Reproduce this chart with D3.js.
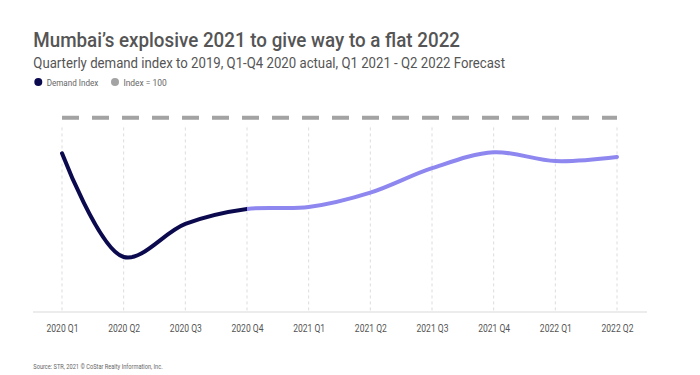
<!DOCTYPE html>
<html>
<head>
<meta charset="utf-8">
<script src="https://cdn.jsdelivr.net/npm/d3@7"></script>
<style>
  html, body { margin: 0; padding: 0; background: #ffffff; }
  svg { display: block; }
  text { font-family: Roboto, "Noto Sans", sans-serif; }
</style>
</head>
<body>
<svg id="chart" width="700" height="375"></svg>
<script>
// ---- data ----
const quarters = ["2020 Q1", "2020 Q2", "2020 Q3", "2020 Q4", "2021 Q1", "2021 Q2", "2021 Q3", "2021 Q4", "2022 Q1", "2022 Q2"];
const demandIndex = [81.7, 28.3, 45.3, 53.0, 54.0, 61.4, 74.0, 82.2, 77.7, 79.8];
const baselineIndex = 100;
const actualQuarters = 4; // first four quarters are actuals, the rest forecast
const legendItems = ["Demand Index", "Index = 100"];

const titleText = "Mumbai\u2019s explosive 2021 to give way to a flat 2022";
const subtitleText = "Quarterly demand index to 2019, Q1-Q4 2020 actual, Q1 2021 - Q2 2022 Forecast";
const sourceText = "Source: STR, 2021 \u00A9 CoStar Realty Information, Inc.";

// ---- layout ----
const svg = d3.select("#chart");
const colActual = "#0c0a4e", colForecast = "#8d87ef", colBase = "#a3a3a3";

const x = d3.scalePoint().domain(quarters).range([62, 617]);
const y = d3.scaleLinear().domain([0, 100]).range([312, 117.7]);

function condText(sel, w) {
  return sel.attr("textLength", w).attr("lengthAdjust", "spacingAndGlyphs");
}

// title
condText(svg.append("text").attr("x", 33.3).attr("y", 46.7)
  .attr("font-size", 21).attr("font-weight", 500).attr("fill", "#555")
  .text(titleText), 426.7);
condText(svg.append("text").attr("x", 33.3).attr("y", 68.3)
  .attr("font-size", 15.5).attr("fill", "#555")
  .text(subtitleText), 471.7);

// legend
const legendColors = [colActual, colBase];
const legendX = [38.3, 115];
const legendW = [51.6, 43.4];
legendItems.forEach((t, i) => {
  svg.append("circle").attr("cx", legendX[i]).attr("cy", 82).attr("r", 4).attr("fill", legendColors[i]);
  condText(svg.append("text").attr("x", legendX[i] + 8.4).attr("y", 85.7)
    .attr("font-size", 9.5).attr("fill", "#666").text(t), legendW[i]);
});

// vertical dashed grid
svg.append("g").selectAll("line").data(quarters).join("line")
  .attr("x1", d => x(d)).attr("x2", d => x(d))
  .attr("y1", y(95)).attr("y2", y(0))
  .attr("stroke", "#dcdce0").attr("stroke-width", 1).attr("stroke-dasharray", "3,3");

// axis baseline
svg.append("line").attr("x1", 33).attr("x2", 647).attr("y1", y(0)).attr("y2", y(0))
  .attr("stroke", "#e6e6e6").attr("stroke-width", 1.5);

// tick labels
const xAxis = d3.axisBottom(x).tickSize(0).tickPadding(0);
const gx = svg.append("g").attr("transform", `translate(0,${331.5})`).call(xAxis);
gx.select(".domain").remove();
gx.selectAll("text").attr("font-size", 11.5).attr("fill", "#555")
  .attr("dy", 0).attr("font-family", "Roboto, sans-serif")
  .attr("textLength", 32).attr("lengthAdjust", "spacingAndGlyphs");

// baseline index = 100
svg.append("line")
  .attr("x1", x(quarters[0])).attr("x2", x(quarters[quarters.length - 1]))
  .attr("y1", y(baselineIndex)).attr("y2", y(baselineIndex))
  .attr("stroke", colBase).attr("stroke-width", 4).attr("stroke-dasharray", "17,13");

// demand line
const pts = quarters.map((q, i) => [x(q), y(demandIndex[i])]);
const line = d3.line().curve(d3.curveCatmullRom.alpha(0.5));
const splitX = x(quarters[actualQuarters - 1]);
const defs = svg.append("defs");
defs.append("clipPath").attr("id", "clipA").append("rect")
  .attr("x", 0).attr("y", 0).attr("width", splitX).attr("height", 375);
defs.append("clipPath").attr("id", "clipF").append("rect")
  .attr("x", splitX).attr("y", 0).attr("width", 700 - splitX).attr("height", 375);

svg.append("path").attr("d", line(pts)).attr("fill", "none")
  .attr("stroke", colForecast).attr("stroke-width", 4).attr("stroke-linecap", "round")
  .attr("clip-path", "url(#clipF)");
svg.append("path").attr("d", line(pts)).attr("fill", "none")
  .attr("stroke", colActual).attr("stroke-width", 4).attr("stroke-linecap", "round")
  .attr("clip-path", "url(#clipA)");

// source
condText(svg.append("text").attr("x", 33.3).attr("y", 368.5)
  .attr("font-size", 8).attr("fill", "#666").text(sourceText), 129.4);
</script>
</body>
</html>
